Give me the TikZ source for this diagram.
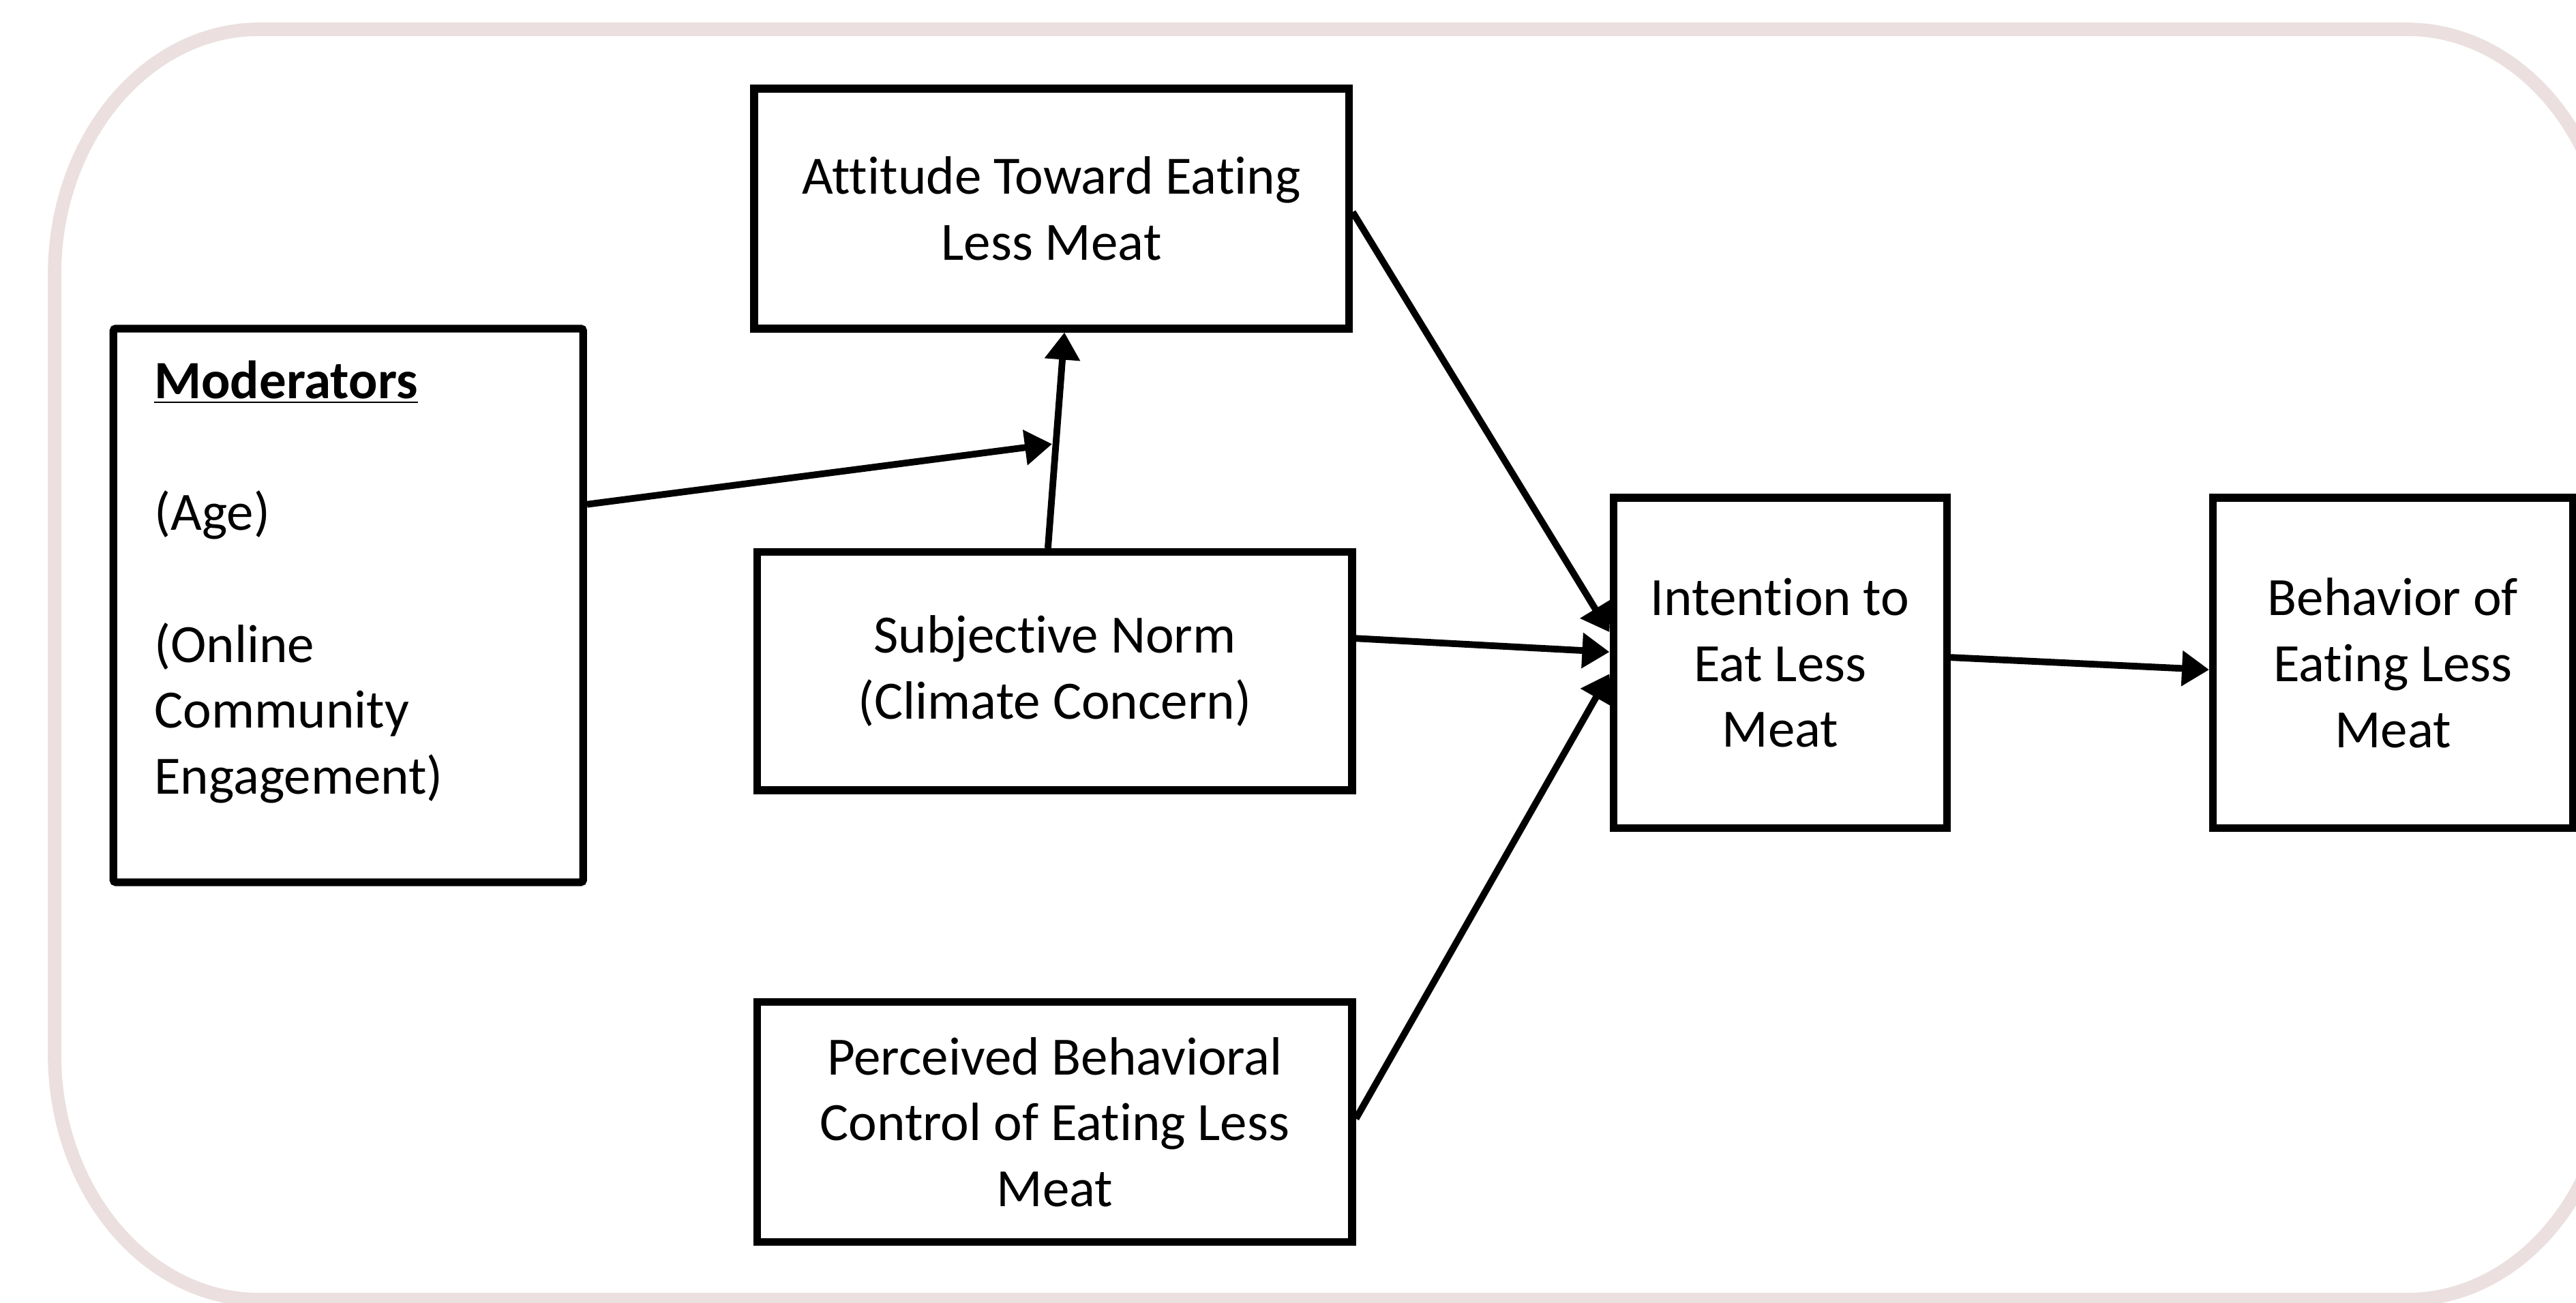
\documentclass[tikz,border=0pt]{standalone}
\usepackage{fontspec}
\setmainfont{Carlito}[Ligatures=NoCommon]
\usetikzlibrary{arrows.meta}
\usetikzlibrary{positioning}
\usetikzlibrary{calc}
\definecolor{framegray}{RGB}{235,224,223}
\tikzstyle{var} = [rectangle, draw=black, line width=3.2pt, inner sep=0pt, align=center, font=\fontsize{22.5}{27.5}\selectfont]
\tikzstyle{plain} = [inner sep=0pt, align=left, font=\fontsize{22.5}{27.5}\selectfont]
\tikzstyle{link} = [draw=black, line width=2.8pt, -{Triangle[length=0.4cm, width=0.5cm]}]

\begin{document}
\begin{tikzpicture}
\useasboundingbox (0,0) rectangle (37.78,19.11);

% Frame
\draw[framegray, line width=5.6pt] (0.8,3.65) -- (0.8,15.08)
  arc[start angle=180, end angle=90, x radius=3, y radius=3.6] -- (35.3,18.68)
  arc[start angle=90, end angle=0, x radius=3, y radius=3.6] -- (38.3,3.65)
  arc[start angle=0, end angle=-90, x radius=3, y radius=3.6] -- (3.8,0.05)
  arc[start angle=270, end angle=180, x radius=3, y radius=3.6] -- cycle;

% Define nodes
\node[var, minimum width=6.891cm, minimum height=8.12cm, rounded corners=1pt] (mod) at (5.108,10.231) {};
\node[plain, anchor=north west] (modtxt) at ([xshift=0.65cm, yshift=-0.52cm]mod.north west)
  {\underline{\textbf{Moderators}}\\[27.5pt] (Age)\\[27.5pt] (Online\\ Community\\ Engagement)};

\node[var, minimum width=8.722cm, minimum height=3.518cm] (att) at (15.421,16.05) {Attitude Toward Eating\\ Less Meat};
\node[var, minimum width=8.722cm, minimum height=3.494cm] (sn)  at (15.469,9.267) {Subjective Norm\\ (Climate Concern)};
\node[var, minimum width=8.722cm, minimum height=3.518cm] (pbc) at (15.469,2.653) {Perceived Behavioral\\ Control of Eating Less\\ Meat};
\node[var, minimum width=4.892cm, minimum height=4.843cm] (int) at (26.107,9.388) {Intention to\\ Eat Less\\ Meat};
\node[var, minimum width=5.277cm, minimum height=4.843cm] (beh) at (35.095,9.388) {Behavior of\\ Eating Less\\ Meat};

% Anchor points
\coordinate (snup)    at ([xshift=-0.1cm]sn.north);
\coordinate (attdown) at ([xshift=0.19cm]att.south);
\coordinate (mid)     at ($(snup)!0.485!(attdown)$);
\coordinate (modout)  at ($(mod.north east)!0.32!(mod.south east)$);

% Edges
\draw[link] (snup) -- (attdown);
\draw[link, shorten >=1.6pt] (modout) -- (mid);
\draw[link] ([yshift=-0.05cm]att.east) -- ([yshift=0.45cm]int.west);
\draw[link] ([yshift=0.48cm]sn.east)   -- ([yshift=0.16cm]int.west);
\draw[link] ([yshift=0.05cm]pbc.east)  -- ([yshift=-0.16cm]int.west);
\draw[link] ([yshift=0.08cm]int.east)  -- ([yshift=-0.1cm]beh.west);
\end{tikzpicture}
\end{document}
